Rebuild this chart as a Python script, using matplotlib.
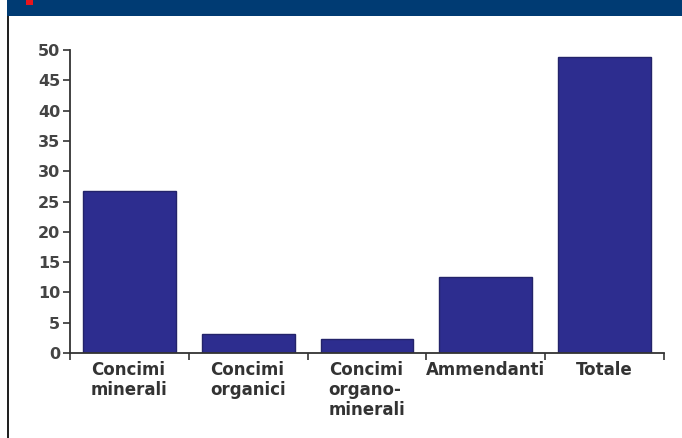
import matplotlib
matplotlib.use("Agg")
import matplotlib.pyplot as plt
from matplotlib.patches import Rectangle
from matplotlib.ticker import FixedLocator

categories = ["Concimi\nminerali", "Concimi\norganici", "Concimi\norgano-\nminerali", "Ammendanti", "Totale"]
values = [26.7, 3.1, 2.3, 12.5, 48.9]
yticks = [0, 5, 10, 15, 20, 25, 30, 35, 40, 45, 50]

fam = ["Liberation Sans Narrow", "DejaVu Sans Condensed", "DejaVu Sans"]
plt.rcParams['font.family'] = fam

W, H = 682, 438
fig = plt.figure(figsize=(W / 100, H / 100), dpi=100)
fig.patch.set_facecolor("white")

# banner and frame
fig.patches.append(Rectangle((7 / W, 1 - 16 / H), 1 - 7 / W, 16 / H, transform=fig.transFigure,
                             facecolor="#003b73", edgecolor="none", zorder=0))
fig.patches.append(Rectangle((26 / W, 1 - 5 / H), 7 / W, 5 / H, transform=fig.transFigure,
                             facecolor="#e8141c", edgecolor="none", zorder=1))
fig.patches.append(Rectangle((7 / W, 0), 2 / W, 1 - 16 / H, transform=fig.transFigure,
                             facecolor="#222222", edgecolor="none", zorder=1))

ax = fig.add_axes([70 / W, 85 / H, (664 - 70) / W, (353 - 50) / H])
x = [i + 0.5 for i in range(len(values))]
ax.bar(x, values, width=0.78, color="#2d2d8f", edgecolor="#23236a", linewidth=1, zorder=2)

ax.set_xlim(0, len(values))
ax.set_ylim(0, 50)
for s in ["top", "right"]:
    ax.spines[s].set_visible(False)
for s in ["left", "bottom"]:
    ax.spines[s].set_color("#333333")
    ax.spines[s].set_linewidth(1.3)

ax.yaxis.set_major_locator(FixedLocator(yticks))
ax.set_yticklabels([str(v) for v in yticks], fontsize=11.5, fontweight="bold", color="#444444")
ax.tick_params(axis="y", direction="out", length=5, width=1.2, color="#333333", pad=2)

ax.xaxis.set_major_locator(FixedLocator(x))
ax.set_xticklabels(categories, fontsize=12, fontweight="bold", color="#333333",
                   va="top", linespacing=1.12, multialignment="left")
ax.tick_params(axis="x", which="major", length=0, pad=6)
ax.xaxis.set_minor_locator(FixedLocator([0, 1, 2, 3, 4, 5]))
ax.tick_params(axis="x", which="minor", direction="out", length=5, width=1.2, color="#333333")

fig.savefig("out.png", dpi=100)
